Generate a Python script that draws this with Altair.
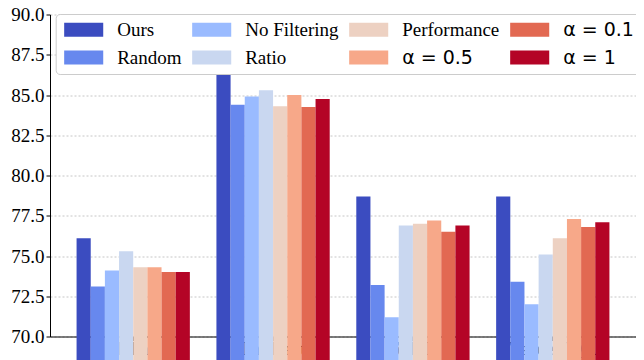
import altair as alt
import pandas as pd

categories = ["HiTab", "TabFact", "ToTTo", "TableVQA"]
series = ["Ours", "Random", "No Filtering", "Ratio", "Performance",
          "α = 0.5", "α = 0.1", "α = 1"]
colors = ["#3b4cc0", "#6788ee", "#9abbff", "#c9d7f0", "#edd1c2",
          "#f7a889", "#e26952", "#b40426"]

ours = [76.1, 87.9, 78.7, 78.7]
random_ = [73.1, 84.4, 73.2, 73.4]
no_filtering = [74.1, 84.9, 71.2, 72.0]
ratio = [75.3, 85.3, 76.9, 75.1]
performance = [74.3, 84.3, 77.0, 76.1]
alpha_05 = [74.3, 85.0, 77.2, 77.3]
alpha_01 = [74.0, 84.25, 76.5, 76.8]
alpha_1 = [74.0, 84.75, 76.9, 77.1]

values = [ours, random_, no_filtering, ratio, performance, alpha_05, alpha_01, alpha_1]

rows = []
for s, vals in zip(series, values):
    for c, v in zip(categories, vals):
        rows.append({"dataset": c, "method": s, "score": v})
df = pd.DataFrame(rows)

serif = "Liberation Serif"
is_alpha = "indexof(datum.label,'α')>=0"

chart = alt.Chart(df).mark_bar().encode(
    x=alt.X("dataset:N", sort=categories,
            scale=alt.Scale(paddingInner=0.19, paddingOuter=0.19),
            axis=alt.Axis(title=None, labelAngle=0, labelFont=serif,
                          labelFontWeight="bold", labelFontSize=19,
                          labelBaseline="alphabetic", labelPadding=14,
                          labelColor="black", tickColor="black", tickSize=4,
                          domainColor="black", grid=False)),
    xOffset=alt.XOffset("method:N", sort=series,
                        scale=alt.Scale(paddingInner=0, paddingOuter=0)),
    y=alt.Y("score:Q",
            scale=alt.Scale(domain=[70, 90], zero=False, nice=False),
            axis=alt.Axis(title=None, values=[70, 72.5, 75, 77.5, 80, 82.5, 85, 87.5, 90],
                          format=".1f", labelFont=serif, labelFontSize=19,
                          labelColor="black", tickColor="black", tickSize=4,
                          domainColor="black", labelPadding=2,
                          grid=True, gridColor="#b8b8b8", gridDash=[2, 2],
                          gridWidth=0.8)),
    color=alt.Color("method:N",
                    scale=alt.Scale(domain=series, range=colors),
                    legend=alt.Legend(
                        title=None, orient="none", legendX=5.7, legendY=-0.5,
                        columns=4, columnPadding=8, rowPadding=8,
                        symbolType="M-2.79,-1H2.79V1H-2.79Z",
                        symbolSize=196, symbolOffset=12.5,
                        symbolStrokeWidth=0, labelOffset=24,
                        labelFont={"expr": is_alpha + " ? 'DejaVu Sans' : 'Liberation Serif'"},
                        labelFontSize=19, labelColor="black",
                        fillColor="white", strokeColor="#cccccc",
                        cornerRadius=4, padding=6, zindex=2)),
).properties(
    width=586, height=322,
    autosize=alt.AutoSizeParams(type="none"),
    padding={"left": 42, "top": 6.5, "right": 0, "bottom": 24},
).configure_view(stroke=None)

chart.save("out.html", embed_options={"renderer": "svg", "actions": False})
